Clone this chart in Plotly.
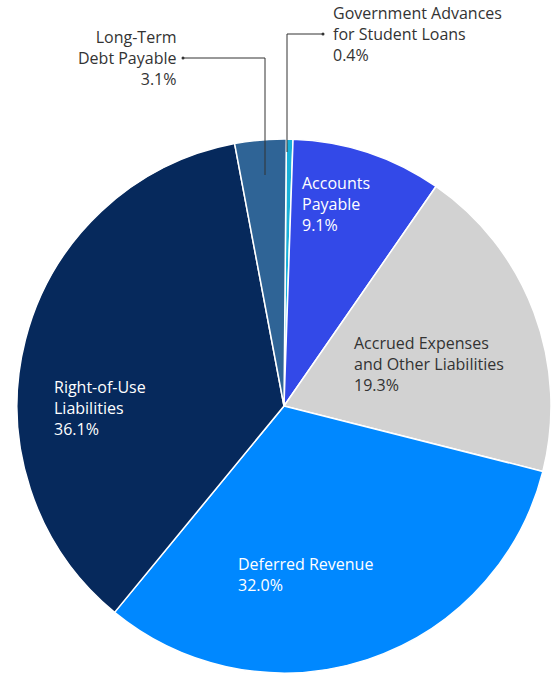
import plotly.graph_objects as go

W, H = 559, 676

labels = [
    "Government Advances for Student Loans",
    "Accounts Payable",
    "Accrued Expenses and Other Liabilities",
    "Deferred Revenue",
    "Right-of-Use Liabilities",
    "Long-Term Debt Payable",
]
values = [0.4, 9.1, 19.3, 32.0, 36.1, 3.1]
colors = ["#1ab0d8", "#3349e8", "#d2d2d2", "#0088ff", "#06295c", "#2f6496"]

label_lines = [
    ["Government Advances", "for Student Loans", "0.4%"],
    ["Accounts", "Payable", "9.1%"],
    ["Accrued Expenses", "and Other Liabilities", "19.3%"],
    ["Deferred Revenue", "32.0%"],
    ["Right-of-Use", "Liabilities", "36.1%"],
    ["Long-Term", "Debt Payable", "3.1%"],
]


def px(x):
    return x / W


def py(y):
    return 1 - y / H


fig = go.Figure(
    go.Pie(
        labels=labels,
        values=values,
        marker=dict(colors=colors, line=dict(color="white", width=1.5)),
        sort=False,
        direction="clockwise",
        rotation=0.5,
        textinfo="none",
        hoverinfo="label+percent",
        domain=dict(x=[px(16), px(552)], y=[py(673), py(139)]),
    )
)

# label placement: x anchor, centre of first line, alignment, colour
placements = [
    (331, 15, "left", "#333333"),
    (300, 185, "left", "white"),
    (352, 345, "left", "#333333"),
    (236, 565, "left", "white"),
    (52, 389, "left", "white"),
    (178, 39, "right", "#333333"),
]
for lines, (x, y, side, col) in zip(label_lines, placements):
    mid = y + (len(lines) - 1) * 19 / 2
    fig.add_annotation(
        x=px(x), y=py(mid), xref="paper", yref="paper",
        text="<br>".join(lines), showarrow=False,
        xanchor=side, yanchor="middle", align=side,
        font=dict(family="Open Sans", size=16, color=col),
    )

# leader lines
line_style = dict(color="#333333", width=1)
leaders = [
    [(265, 175), (265, 58), (183, 58)],
    [(287, 152), (287, 34), (323, 34)],
]
for pts in leaders:
    for (x0, y0), (x1, y1) in zip(pts[:-1], pts[1:]):
        fig.add_shape(type="line", xref="paper", yref="paper",
                      x0=px(x0), y0=py(y0), x1=px(x1), y1=py(y1), line=line_style)
    ex, ey = pts[-1]
    fig.add_shape(type="circle", xref="paper", yref="paper",
                  x0=px(ex - 1.5), y0=py(ey - 1.5), x1=px(ex + 1.5), y1=py(ey + 1.5),
                  fillcolor="#333333", line=dict(width=0))

fig.update_layout(
    width=W, height=H,
    margin=dict(l=0, r=0, t=0, b=0),
    paper_bgcolor="white",
    showlegend=False,
)

fig.write_html(
    "out.html",
    config={"displayModeBar": False},
    post_script="document.body.style.margin='0';",
)
